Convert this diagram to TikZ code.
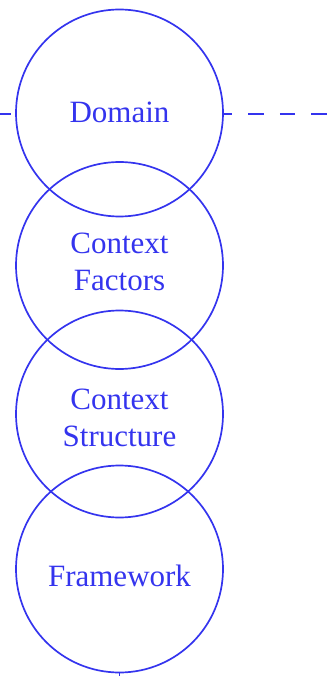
\documentclass[tikz,border=0pt]{standalone}
\usepackage{fontspec}
\setmainfont{Liberation Serif}
\definecolor{ink}{RGB}{52,52,238}
\begin{document}
\begin{tikzpicture}[x=1pt,y=1pt,
  ring/.style={circle, draw=ink, line width=1.7pt, minimum size=207pt,
    inner sep=0pt},
  lbl/.style={anchor=north, inner sep=0pt, text=ink, align=center,
    font=\fontsize{31}{36.5}\selectfont},
  guide/.style={draw=ink, line width=1.3pt, dash pattern=on 15.5pt off 16pt}]
  \useasboundingbox (0,0) rectangle (334,-676);

  % stacked, overlapping circles
  \node[ring] (dom) at (119.5,-113)   {};
  \node[ring] (fac) at (119.5,-265.5) {};
  \node[ring] (str) at (119.5,-414)   {};
  \node[ring] (fw)  at (119.5,-569)   {};

  % circle labels, placed by the top of their first line
  \node[lbl] (domT) at (119.5,-101.5) {Domain};
  \node[lbl] (facT) at (119.5,-233)   {Context\\Factors};
  \node[lbl] (strT) at (119.5,-389)   {Context\\Structure};
  \node[lbl] (fwT)  at (119.5,-565)   {Framework};

  % horizontal dashed guide through the top circle
  \coordinate (gl) at (0,-114);
  \coordinate (gr) at (334,-114);
  \draw[guide, dash phase=5pt] (gl) -- (dom.west |- gl);
  \draw[guide, dash phase=7pt] (dom.east |- gr) -- (gr);

  % short lead leaving the bottom circle
  \coordinate (bt) at (fw.south |- 0,-676);
  \draw[ink, line width=1pt] (fw.south) -- (bt);
\end{tikzpicture}
\end{document}
